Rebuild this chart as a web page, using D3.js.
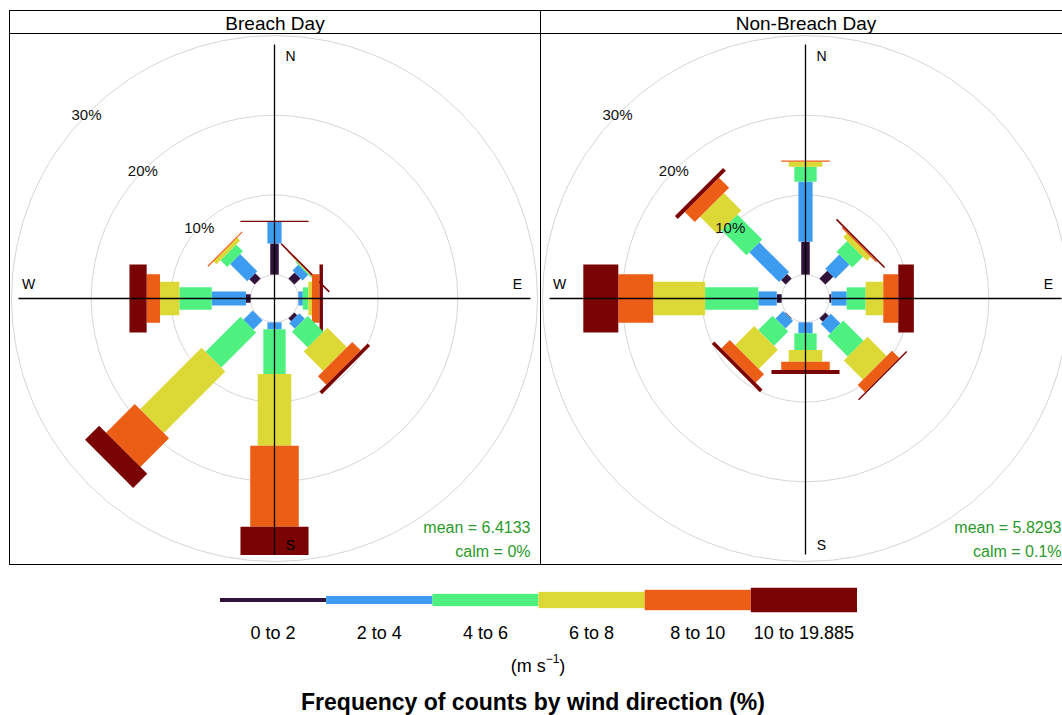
<!DOCTYPE html>
<html><head><meta charset="utf-8">
<script src="https://cdn.jsdelivr.net/npm/d3@7/dist/d3.min.js"></script>
<style>
body{margin:0;background:#fff;}
svg text{font-family:"Liberation Sans",Arial,sans-serif;}
</style>
</head><body>
<svg id="chart" width="1062" height="715"></svg>
<script>
// ---------- data ----------
const directions = ["N","NE","E","SE","S","SW","W","NW"];
const dirAngles = [0,45,90,135,180,225,270,315];
const speedBins = ["0 to 2","2 to 4","4 to 6","6 to 8","8 to 10","10 to 19.885"];
const binColors = ["#30123B","#3E9CF0","#4EF080","#DCD836","#EC5E16","#7A0403"];
const panelTitles = ["Breach Day","Non-Breach Day"];
const gridTicks = [10,20,30];
const meanLabels = ["mean = 6.4133","mean = 5.8293"];
const calmLabels = ["calm = 0%","calm = 0.1%"];

// Breach Day: frequency (%) by direction N,NE,E,SE,S,SW,W,NW for each speed bin
const breach_0_2   = [3.9, 1.1, 0,    0.5,  0,     0,    0.58, 0.95];
const breach_2_4   = [2.7, 1.0, 0.55, 1.0,  0.87,  1.65, 4.3,  3.05];
const breach_4_6   = [0,   0.15,0.7,  2.8,  5.6,   6.2,  4.06, 1.2];
const breach_6_8   = [0,   0.05,0.45, 3.45, 9.0,   10.9, 2.43, 0.5];
const breach_8_10  = [0,   0.05,0.95, 1.5,  10.16, 5.1,  1.67, 0.15];
const breach_10_20 = [0.15,0.2, 0.43, 0.45, 3.55,  2.5,  2.16, 0];

// Non-Breach Day
const nonbreach_0_2   = [4.13, 1.4,  0.24, 0.6,  0,    0.1,  0.61, 0.8];
const nonbreach_2_4   = [7.53, 2.5,  1.93, 1.7,  1.37, 1.35, 2.31, 5.28];
const nonbreach_4_6   = [1.88, 1.9,  2.38, 3.6,  2.09, 2.55, 6.68, 4.42];
const nonbreach_6_8   = [0.63, 0.67, 2.21, 3.4,  1.47, 3.4,  6.5,  3.1];
const nonbreach_8_10  = [0.15, 0.2,  1.88, 1.3,  1.04, 1.5,  4.39, 1.8];
const nonbreach_10_20 = [0,    0.2,  1.96, 0.18, 0.5,  0.45, 4.39, 0.5];

const panelData = [
  [breach_0_2, breach_2_4, breach_4_6, breach_6_8, breach_8_10, breach_10_20],
  [nonbreach_0_2, nonbreach_2_4, nonbreach_4_6, nonbreach_6_8, nonbreach_8_10, nonbreach_10_20]
];

// ---------- layout ----------
const svg = d3.select("#chart");
const panelW = 531, stripH = 23, stripTop = 10.5, panelTop = stripTop + stripH;
const rScale = d3.scaleLinear().domain([0, 30]).range([23.9, 263]);
const pxPerPct = rScale(1) - rScale(0);
// openair paddle box widths
const bw0 = Math.pow(0.002, 0.25), bw1 = Math.pow(0.016, 0.25);
const boxWidths = d3.range(speedBins.length).map(i => Math.pow(bw0 + i * (bw1 - bw0) / (speedBins.length - 1), 4));
const maxHalfPct = 4.27; // half width of widest paddle, in % units
const halfW = boxWidths.map(b => b / 0.016 * maxHalfPct * pxPerPct);

function paddle(cx, cy, ang, r1, r2, w) {
  const t = ang * Math.PI / 180, s = Math.sin(t), c = Math.cos(t);
  const p = (r, o) => [cx + r * s + o * c, cy - r * c + o * s];
  return [p(r1, -w), p(r1, w), p(r2, w), p(r2, -w)];
}

panelTitles.forEach((title, pi) => {
  const x0 = 9.5 + pi * panelW;
  const cx = x0 + 265, cy = panelTop + 265;
  const g = svg.append("g");

  // grid circles
  g.append("circle").attr("cx", cx).attr("cy", cy).attr("r", rScale(0))
    .attr("fill", "none").attr("stroke", "#d6d6d6").attr("stroke-width", 1);
  gridTicks.forEach(t => {
    g.append("circle").attr("cx", cx).attr("cy", cy).attr("r", rScale(t))
      .attr("fill", "none").attr("stroke", "#d6d6d6").attr("stroke-width", 1);
  });

  // paddles
  const freq = panelData[pi];
  dirAngles.forEach((ang, di) => {
    let cum = 0;
    speedBins.forEach((b, bi) => {
      const v = freq[bi][di];
      if (v > 0) {
        const pts = paddle(cx, cy, ang, rScale(cum), rScale(cum + v), halfW[bi]);
        g.append("polygon").attr("points", pts.map(p => p.join(",")).join(" "))
          .attr("fill", binColors[bi]);
      }
      cum += v;
    });
  });

  // axes
  const L = 256;
  g.append("line").attr("x1", cx - L).attr("x2", cx + L).attr("y1", cy).attr("y2", cy)
    .attr("stroke", "#000").attr("stroke-width", 1.3);
  g.append("line").attr("x1", cx).attr("x2", cx).attr("y1", cy - L + 2).attr("y2", cy + L)
    .attr("stroke", "#000").attr("stroke-width", 1.3);

  // compass labels
  const lab = [["N", 16, -243], ["S", 16, 246], ["E", 243, -15], ["W", -246, -15]];
  lab.forEach(([t, dx, dy]) => {
    g.append("text").attr("x", cx + dx).attr("y", cy + dy).attr("text-anchor", "middle")
      .attr("dominant-baseline", "central").attr("font-size", 14).text(t);
  });

  // grid labels
  gridTicks.forEach(t => {
    const r = rScale(t);
    g.append("text").attr("x", cx - r * Math.SQRT1_2 - 2).attr("y", cy - r * Math.SQRT1_2 + 2)
      .attr("text-anchor", "middle").attr("dominant-baseline", "central")
      .attr("font-size", 15).attr("fill", "#111").text(t + "%");
  });

  // mean / calm
  g.append("text").attr("x", x0 + panelW - 10).attr("y", cy + 229).attr("text-anchor", "end")
    .attr("dominant-baseline", "central").attr("font-size", 16).attr("fill", "#2A9A2A").text(meanLabels[pi]);
  g.append("text").attr("x", x0 + panelW - 10).attr("y", cy + 253).attr("text-anchor", "end")
    .attr("dominant-baseline", "central").attr("font-size", 16).attr("fill", "#2A9A2A").text(calmLabels[pi]);

  // strip + borders
  g.append("rect").attr("x", x0).attr("y", stripTop).attr("width", panelW).attr("height", stripH)
    .attr("fill", "none").attr("stroke", "#000").attr("stroke-width", 1);
  g.append("text").attr("x", x0 + panelW / 2).attr("y", stripTop + stripH / 2 + 1).attr("text-anchor", "middle")
    .attr("dominant-baseline", "central").attr("font-size", 19).text(title);
  g.append("rect").attr("x", x0).attr("y", panelTop).attr("width", panelW).attr("height", panelW)
    .attr("fill", "none").attr("stroke", "#000").attr("stroke-width", 1);
});

// ---------- legend ----------
const legX = d3.scaleBand().domain(speedBins).range([220, 857]);
const legH = d3.scaleLinear().domain([0, speedBins.length - 1]).range([4, 24.5]);
const legY = 600;
speedBins.forEach((b, i) => {
  const h = legH(i);
  svg.append("rect").attr("x", legX(b)).attr("y", legY - h / 2).attr("width", legX.bandwidth())
    .attr("height", h).attr("fill", binColors[i]);
  svg.append("text").attr("x", legX(b) + legX.bandwidth() / 2).attr("y", 633).attr("text-anchor", "middle")
    .attr("dominant-baseline", "central").attr("font-size", 18).text(b);
});
const unit = svg.append("text").attr("x", 538).attr("y", 666).attr("text-anchor", "middle")
  .attr("dominant-baseline", "central").attr("font-size", 18);
unit.append("tspan").text("(m s");
unit.append("tspan").attr("font-size", 12).attr("dy", -7).text("\u22121");
unit.append("tspan").attr("dy", 7).text(")");
svg.append("text").attr("x", 533).attr("y", 702).attr("text-anchor", "middle")
  .attr("dominant-baseline", "central").attr("font-size", 23).attr("font-weight", "bold")
  .text("Frequency of counts by wind direction (%)");
</script>
</body></html>
